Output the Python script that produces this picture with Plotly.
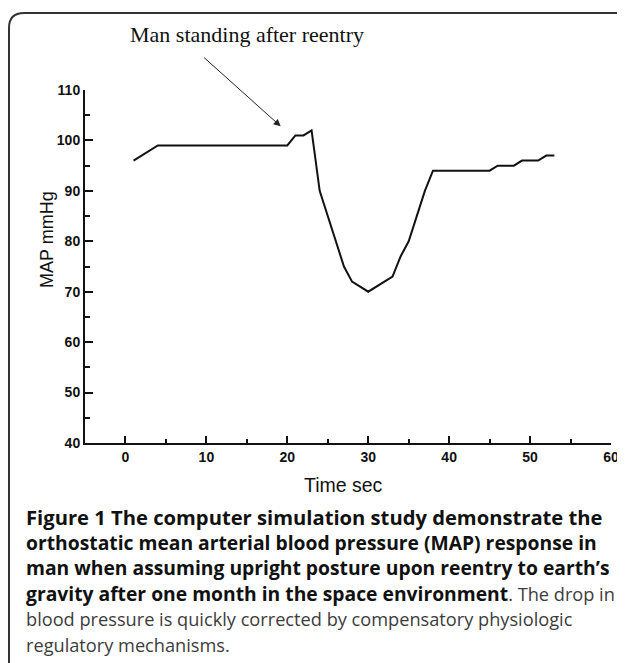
import plotly.graph_objects as go

# Data
time_sec = [1, 4, 20, 21, 22, 23, 24, 25, 26, 27, 28, 30, 32, 33, 34, 35, 36, 37, 38, 45, 46, 48, 49, 51, 52, 53]
map_mmhg = [96, 99, 99, 101, 101, 102, 90, 85, 80, 75, 72, 70, 72, 73, 77, 80, 85, 90, 94, 94, 95, 95, 96, 96, 97, 97]
x_ticks = [0, 10, 20, 30, 40, 50, 60]
x_minor = [5, 15, 25, 35, 45, 55]
y_ticks = [40, 50, 60, 70, 80, 90, 100, 110]
y_minor = [45, 55, 65, 75, 85, 95, 105]

annotation_text = "Man standing after reentry"
x_title = "Time sec"
y_title = "MAP mmHg"

BOLD = "<b>{}</b>"
REG = "<span style='font-size:18.2px;color:#3c3c3c'>{}</span>"
caption_lines = [
    "<b><span style='font-size:20.2px'>Figure 1 The computer simulation study demonstrate the</span></b>",
    BOLD.format("orthostatic mean arterial blood pressure (MAP) response in"),
    BOLD.format("man when assuming upright posture upon reentry to earth\u2019s"),
    BOLD.format("gravity after one month in the space environment") + REG.format(". The drop in"),
    REG.format("blood pressure is quickly corrected by compensatory physiologic"),
    REG.format("regulatory mechanisms."),
]
caption_centers = [516.5, 542, 567.5, 593, 619, 644.5]

# The page body has an 8px margin; work in window pixels and shift.
OFF = 8
W, H = 625 - OFF, 663 - OFF
L, R, T, B = 85 - OFF, 14, 90 - OFF, H - (443 - OFF)
PW, PH = W - L - R, H - T - B


def px(x):
    return (x - OFF - L) / PW


def py(y):
    return (H - B - (y - OFF)) / PH


fig = go.Figure()
fig.add_trace(go.Scatter(x=time_sec, y=map_mmhg, mode="lines",
                         line=dict(color="#111111", width=2), showlegend=False))

axis_font = dict(family="Liberation Sans, Arial, sans-serif", size=14, color="#111111", weight="bold")

fig.update_xaxes(range=[-5, 60], tickvals=x_ticks, ticks="inside", ticklen=7, tickwidth=1.5,
                 tickcolor="#111111", showline=True, linecolor="#111111", linewidth=2,
                 showgrid=False, zeroline=False, tickfont=axis_font, ticklabelstandoff=0,
                 minor=dict(tickvals=x_minor, ticks="inside", ticklen=4,
                            tickwidth=1.5, tickcolor="#111111", showgrid=False))
fig.update_yaxes(range=[40, 110], tickvals=y_ticks, ticks="inside", ticklen=8, tickwidth=1.5,
                 tickcolor="#111111", showline=True, linecolor="#111111", linewidth=2,
                 showgrid=False, zeroline=False, tickfont=axis_font,
                 minor=dict(tickvals=y_minor, ticks="inside", ticklen=5,
                            tickwidth=1.5, tickcolor="#111111", showgrid=False))

annotations = [
    dict(x=19.18, y=102.8, xref="x", yref="y", ax=-78, ay=-70, text="", showarrow=True,
         arrowhead=2, arrowsize=1.4, arrowwidth=1, arrowcolor="#222222"),
    dict(x=px(247), y=py(34), xref="paper", yref="paper", text=annotation_text, showarrow=False,
         font=dict(family="Liberation Serif, Times New Roman, serif", size=22, color="#111111"),
         xanchor="center", yanchor="middle"),
    dict(x=px(343), y=py(485), xref="paper", yref="paper", text=x_title, showarrow=False,
         font=dict(family="Liberation Sans, Arial, sans-serif", size=19.5, color="#111111"),
         xanchor="center", yanchor="middle"),
    dict(x=px(47), y=py(240), xref="paper", yref="paper", text=y_title, showarrow=False,
         textangle=-90,
         font=dict(family="Liberation Sans, Arial, sans-serif", size=18, color="#111111"),
         xanchor="center", yanchor="middle"),
]
for line, cy in zip(caption_lines, caption_centers):
    annotations.append(dict(x=px(24), y=py(cy), xref="paper", yref="paper", text=line,
                            showarrow=False, align="left", xanchor="left", yanchor="middle",
                            font=dict(family="Open Sans, Noto Sans, sans-serif", size=19.3,
                                      color="#111111")))

# Rounded frame (open on right/bottom, extends past the image)
r = 15
x0, y0 = 9, 13
path = (f"M {px(700)},{py(y0)} L {px(x0 + r)},{py(y0)} "
        f"Q {px(x0)},{py(y0)} {px(x0)},{py(y0 + r)} L {px(x0)},{py(700)}")

fig.update_layout(
    width=W, height=H, margin=dict(l=L, r=R, t=T, b=B, autoexpand=False),
    paper_bgcolor="white", plot_bgcolor="white",
    annotations=annotations,
    shapes=[dict(type="path", path=path, xref="paper", yref="paper",
                 line=dict(color="#333333", width=2), layer="above")],
)

fig.write_html("out.html")
